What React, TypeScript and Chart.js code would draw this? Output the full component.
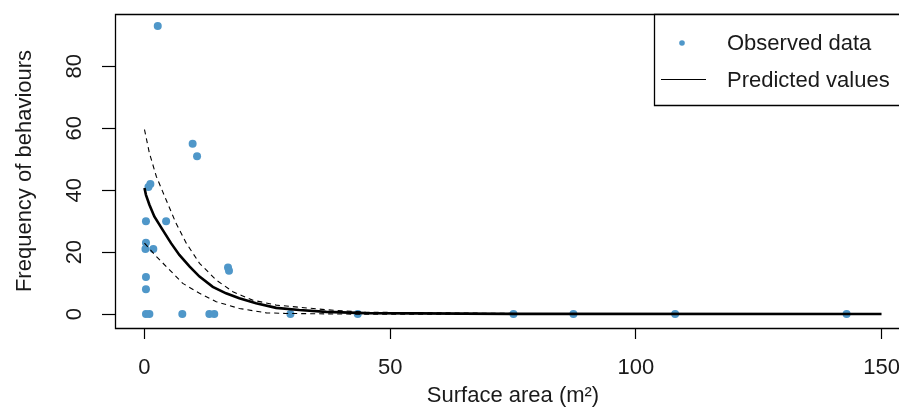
import React, { useEffect, useRef } from 'react';
import { Chart, registerables } from 'chart.js';

Chart.register(...registerables);

const xTicks = [0, 50, 100, 150];
const yTicks = [0, 20, 40, 60, 80];

// Observed data
const obsX = [2.7, 9.8, 10.7, 0.8, 1.2, 0.3, 4.4, 0.3, 0.2, 1.8, 17.0, 17.2, 0.3, 0.3, 0.3, 1.0, 7.7, 13.2, 14.2, 29.7, 43.4, 75.1, 87.3, 108, 142.9];
const obsY = [93, 55, 51, 41, 42, 30, 30, 23, 21, 21, 15, 14, 12, 8, 0, 0, 0, 0, 0, 0, 0, 0, 0, 0, 0];

// Predicted values (mean curve)
const predX = [0, 0.3, 1, 2, 3.7, 5.4, 7.1, 9.2, 11.2, 13.9, 16.6, 19.3, 22.7, 26.8, 31.5, 37, 45, 75, 150];
const predY = [40.7, 38.5, 35.3, 31.5, 27.2, 22.9, 19.1, 15.3, 12.1, 8.8, 6.7, 5.1, 3.5, 2.0, 1.3, 0.7, 0.3, 0.05, 0];

// Upper confidence bound
const upX = [0, 1, 2.4, 4.4, 6.4, 8.5, 11.2, 14.6, 18, 22, 26.8, 31.5, 37, 45, 75];
const upY = [59.6, 52, 44.5, 36.9, 29.4, 22.9, 16.4, 11, 7.2, 4.5, 2.9, 2.2, 1.4, 0.6, 0.2];

// Lower confidence bound
const loX = [0, 2.4, 5.1, 7.8, 11.2, 14.6, 19.3, 24.8, 28.8, 40, 75];
const loY = [22.9, 18.6, 14.3, 9.9, 6.7, 4.0, 1.8, 0.4, 0.2, 0, -0.1];

const legendLabels = ['Observed data', 'Predicted values'];
const xTitle = 'Surface area (m²)';
const yTitle = 'Frequency of behaviours';

const pts = (xs: number[], ys: number[]) => xs.map((x, i) => ({ x, y: ys[i] }));

export default function App() {
  const ref = useRef<HTMLCanvasElement>(null);
  useEffect(() => {
    document.body.style.margin = '0';
    document.body.style.overflow = 'hidden';
    const family = "'Liberation Sans', Arial, sans-serif";
    const textColor = '#1a1a1a';
    const pointColor = '#4f97c9';

    const boxPlugin = {
      id: 'rbox',
      afterDraw(chart: any) {
        const { ctx, chartArea: a, width } = chart;
        const L = Math.round(a.left) + 0.5;
        const T = Math.round(a.top) + 0.5;
        const B = Math.round(a.bottom) + 0.5;
        const R = width + 5;
        ctx.save();
        ctx.strokeStyle = '#000';
        ctx.lineWidth = 1.3;
        ctx.beginPath();
        ctx.moveTo(R, T);
        ctx.lineTo(L, T);
        ctx.lineTo(L, B);
        ctx.lineTo(R, B);
        ctx.stroke();
        // legend box
        const lLeft = 654.5, lBottom = 105.5;
        ctx.fillStyle = '#fff';
        ctx.fillRect(lLeft, T, R - lLeft, lBottom - T);
        ctx.beginPath();
        ctx.moveTo(R, T);
        ctx.lineTo(lLeft, T);
        ctx.lineTo(lLeft, lBottom);
        ctx.lineTo(R, lBottom);
        ctx.stroke();
        // entry 1: point
        ctx.fillStyle = pointColor;
        ctx.beginPath();
        ctx.arc(682, 43, 2.8, 0, Math.PI * 2);
        ctx.fill();
        // entry 2: line
        ctx.strokeStyle = '#000';
        ctx.lineWidth = 1.2;
        ctx.beginPath();
        ctx.moveTo(661, 79.5);
        ctx.lineTo(706, 79.5);
        ctx.stroke();
        ctx.fillStyle = textColor;
        ctx.font = `22px ${family}`;
        ctx.textBaseline = 'middle';
        ctx.textAlign = 'left';
        ctx.fillText(legendLabels[0], 727, 44);
        ctx.fillText(legendLabels[1], 727, 81);
        ctx.restore();
      },
    };

    const chart = new Chart(ref.current!, {
      type: 'line',
      data: {
        datasets: [
          {
            label: 'Predicted values',
            data: pts(predX, predY),
            borderColor: '#000',
            borderWidth: 2.6,
            pointRadius: 0,
            fill: false,
            tension: 0,
            order: 0,
          },
          {
            label: 'Upper',
            data: pts(upX, upY),
            borderColor: '#000',
            borderWidth: 1.1,
            borderDash: [5, 4],
            pointRadius: 0,
            fill: false,
            order: 1,
          },
          {
            label: 'Lower',
            data: pts(loX, loY),
            borderColor: '#000',
            borderWidth: 1.1,
            borderDash: [5, 4],
            pointRadius: 0,
            fill: false,
            order: 2,
          },
          {
            type: 'scatter',
            label: 'Observed data',
            data: pts(obsX, obsY),
            backgroundColor: pointColor,
            borderWidth: 0,
            pointRadius: 4,
            showLine: false,
            order: 10,
          } as any,
        ],
      },
      options: {
        responsive: false,
        animation: false,
        layout: { padding: { left: 0, top: 14, right: 49, bottom: 0 } },
        plugins: { legend: { display: false }, tooltip: { enabled: false } },
        scales: {
          x: {
            type: 'linear',
            min: -6,
            max: 156,
            afterBuildTicks: (s: any) => { s.ticks = xTicks.map((v) => ({ value: v })); },
            afterFit: (s: any) => { s.height = 80; s.paddingLeft = 0; s.paddingRight = 0; },
            grid: { drawOnChartArea: false, drawTicks: true, tickLength: 11, tickColor: '#000', tickWidth: 1.2 },
            border: { display: false },
            ticks: {
              font: { family, size: 22, lineHeight: 1 },
              color: textColor,
              padding: 18,
              maxRotation: 0,
              minRotation: 0,
              callback: (v: any) => String(v),
            },
            title: {
              display: true,
              text: xTitle,
              font: { family, size: 22, lineHeight: 1 },
              color: textColor,
              padding: { top: 0, bottom: 1 },
            },
          },
          y: {
            type: 'linear',
            min: -4.5,
            max: 96.9,
            afterBuildTicks: (s: any) => { s.ticks = yTicks.map((v) => ({ value: v })); },
            afterFit: (s: any) => { s.width = 115; s.paddingTop = 0; s.paddingBottom = 0; },
            grid: { drawOnChartArea: false, drawTicks: true, tickLength: 13, tickColor: '#000', tickWidth: 1.2 },
            border: { display: false },
            ticks: {
              font: { family, size: 22, lineHeight: 1 },
              color: textColor,
              padding: 15,
              minRotation: 90,
              maxRotation: 90,
              crossAlign: 'center',
              callback: (v: any) => String(v),
            },
            title: {
              display: true,
              text: yTitle,
              font: { family, size: 22, lineHeight: 1 },
              color: textColor,
              padding: { top: 14, bottom: 0 },
            },
          },
        },
      },
      plugins: [boxPlugin],
    });
    return () => chart.destroy();
  }, []);

  return (
    <div style={{ width: 899, height: 408, overflow: 'hidden', position: 'relative', background: '#fff' }}>
      <canvas ref={ref} width={960} height={408} style={{ display: 'block' }} />
    </div>
  );
}
